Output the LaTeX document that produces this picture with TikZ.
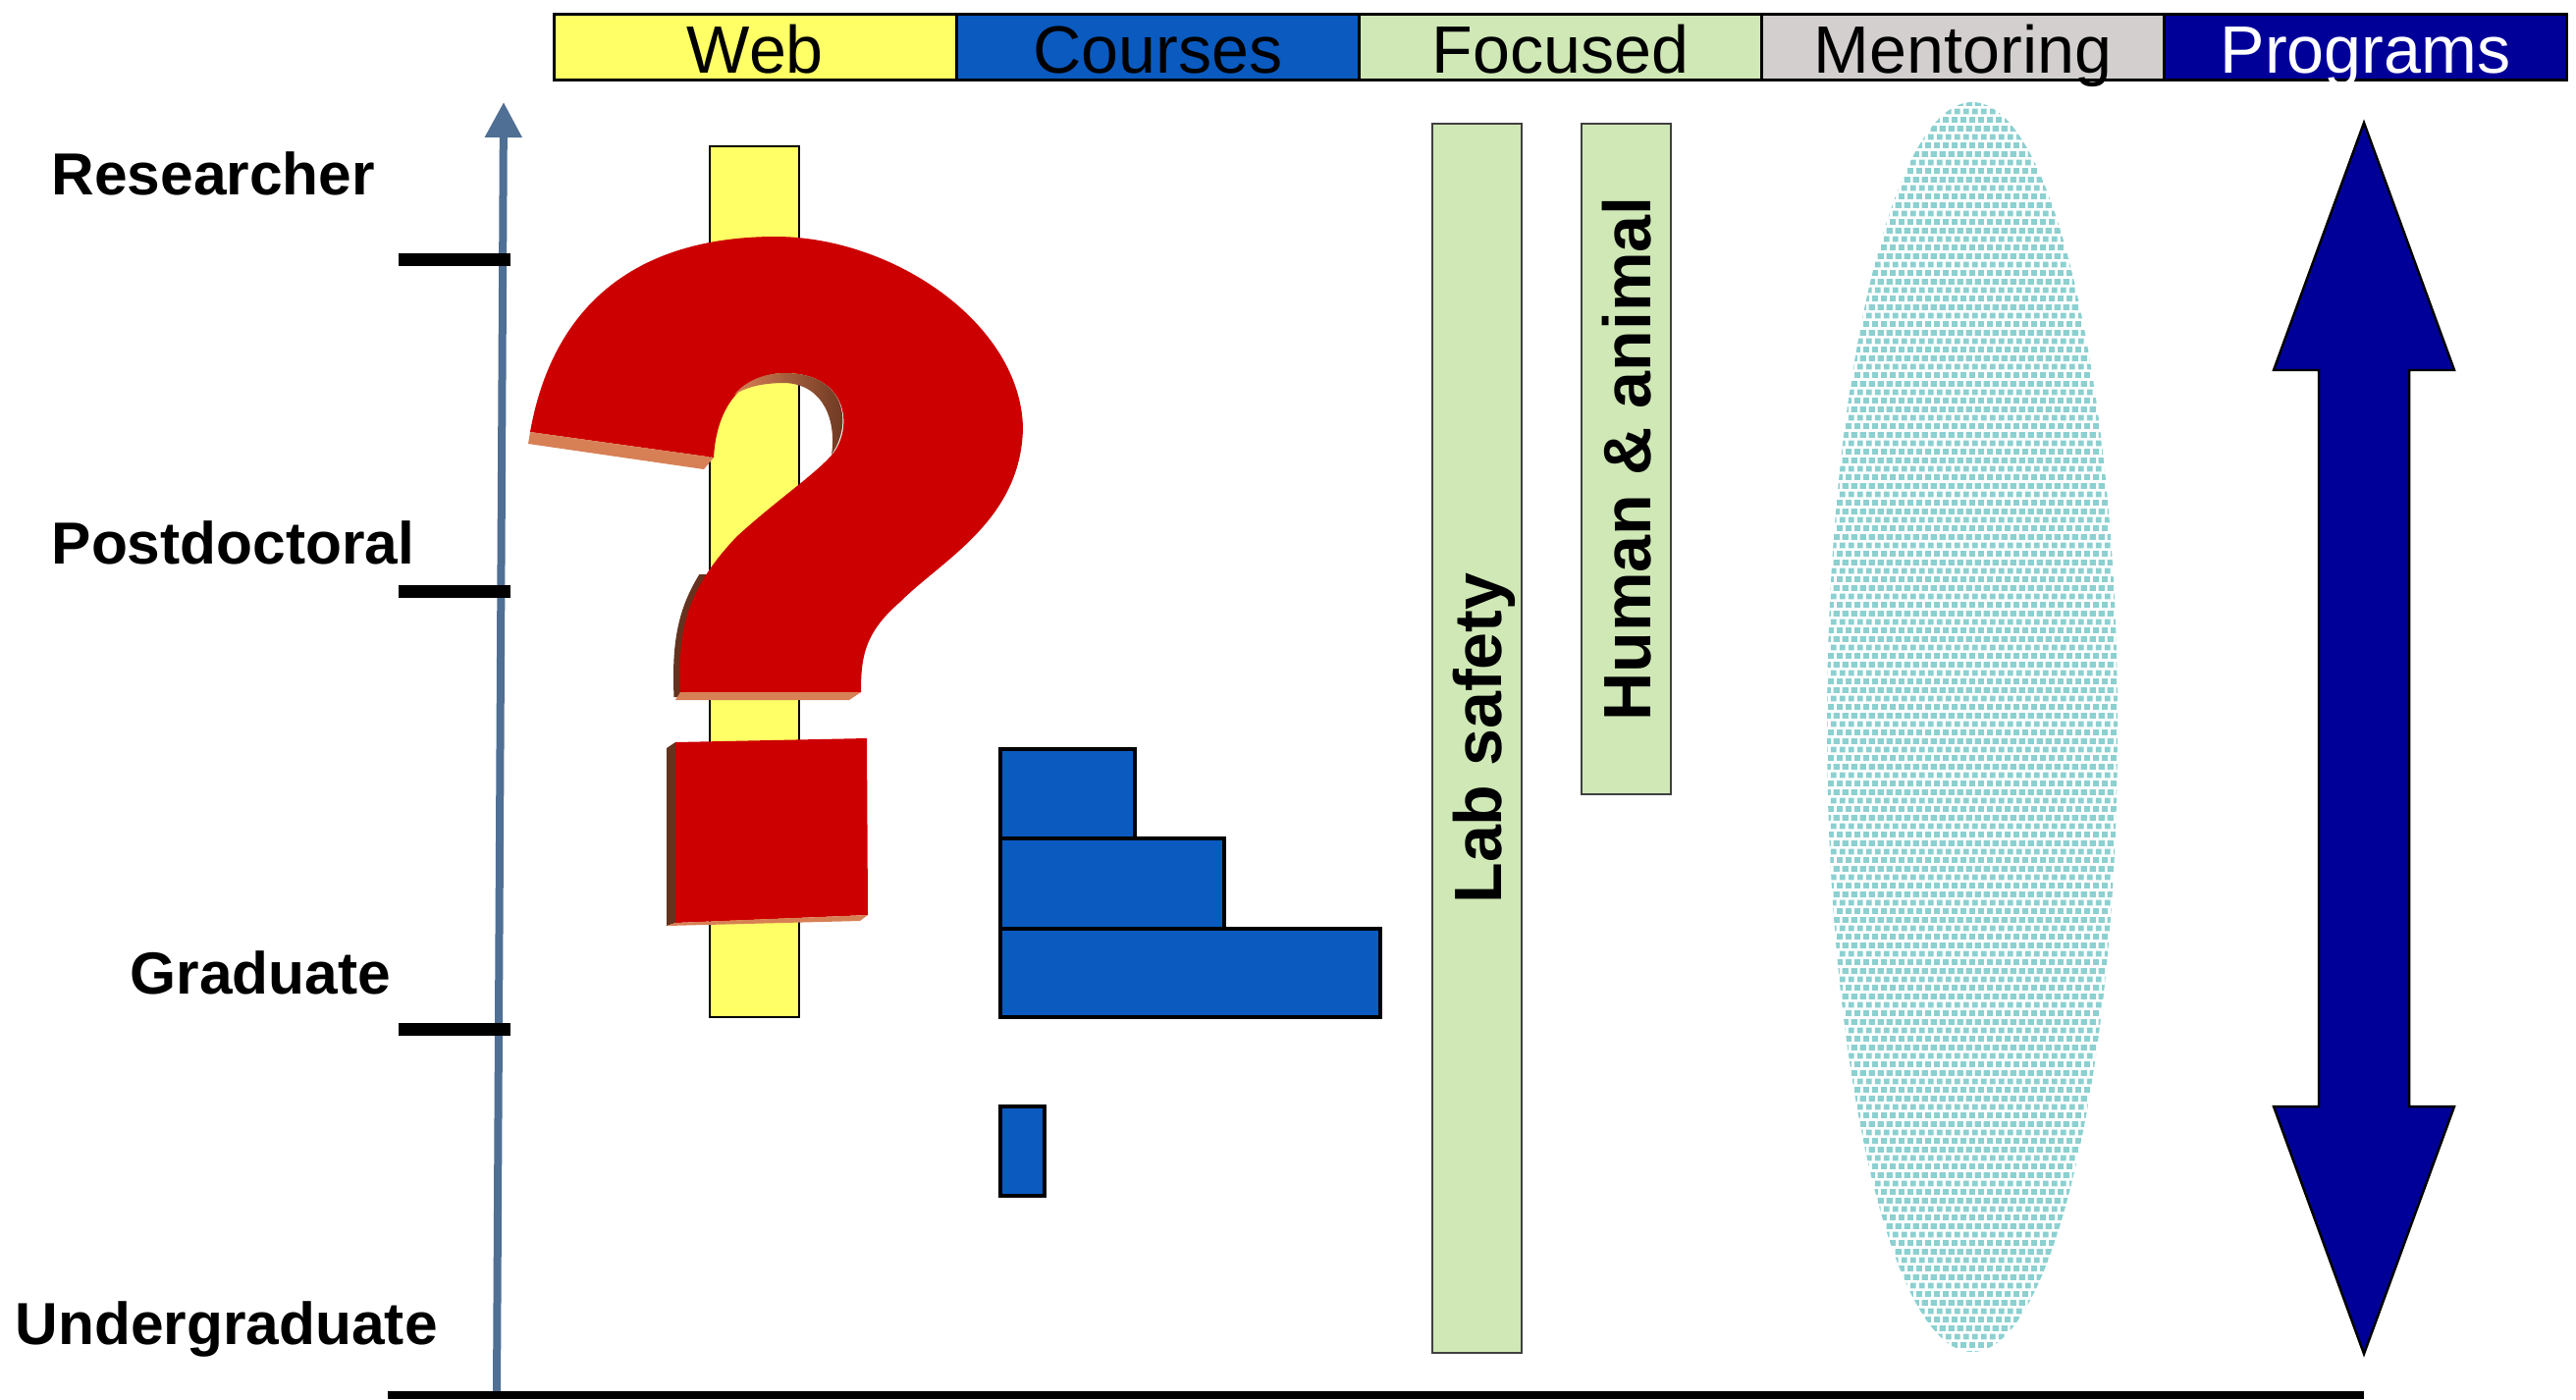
\documentclass[tikz,border=0pt]{standalone}
\usepackage{fontspec}
\setmainfont{Liberation Sans}
\usepackage{xcolor}
\usepackage{tikz}
\usetikzlibrary{arrows.meta, patterns.meta}
\definecolor{WebYellow}{RGB}{255,255,102}
\definecolor{CourseBlue}{RGB}{10,90,192}
\definecolor{FocusGreen}{RGB}{207,232,182}
\definecolor{MentorGrey}{RGB}{211,207,207}
\definecolor{ProgNavy}{RGB}{0,0,153}
\definecolor{AxisBlue}{RGB}{79,111,148}
\definecolor{MentorTeal}{RGB}{140,208,208}
\definecolor{QRed}{RGB}{204,0,0}
\definecolor{QEdge}{RGB}{215,128,85}
\definecolor{QDark}{RGB}{100,50,30}
\tikzdeclarepattern{
    name=mentordots,
    type=uncolored,
    bounding box={(0pt,0pt) and (2.5pt,7.5pt)},
    tile size={(2.5pt,7.5pt)},
    code={
        \fill (0pt,0pt) rectangle (1.7pt,1.7pt);
        \fill (0.83pt,2.5pt) rectangle (2.53pt,4.2pt);
        \fill (1.67pt,5pt) rectangle (3.37pt,6.7pt);
        \fill (-0.83pt,5pt) rectangle (0.87pt,6.7pt);
    }
}
\tikzset{
    headcell/.style={
        draw, line width=0.8pt, minimum width=4.1cm, minimum height=0.67cm,
        inner sep=0pt, text height=0.53cm, text depth=0pt, anchor=north west,
        font=\fontsize{19.4pt}{23pt}\selectfont
    },
    levellabel/.style={
        anchor=base west, inner sep=0pt,
        font=\fontsize{17.2pt}{21pt}\selectfont\bfseries
    },
    tickmark/.style={
        line width=0.13cm, black
    },
    axisline/.style={
        -{Triangle[width=3.6mm, length=3.6mm]}, line width=0.08cm, AxisBlue
    },
    webbar/.style={
        draw=black, line width=0.7pt, fill=WebYellow
    },
    coursebox/.style={
        draw=black, line width=1pt, fill=CourseBlue
    },
    focusbar/.style={
        draw=black!75, line width=0.7pt, fill=FocusGreen, rotate=90,
        inner sep=0pt, minimum height=0.91cm, text height=0.49cm, text depth=0pt,
        font=\fontsize{19.4pt}{23pt}\selectfont\bfseries
    },
    progarrow/.style={
        draw=black, line width=0.7pt, fill=ProgNavy
    },
    qface/.style={fill=QRed},
    qedge/.style={fill=QEdge},
    qshade/.style={fill=QDark}
}
\begin{document}
\begin{tikzpicture}[x=1cm, y=-1cm]
    \useasboundingbox (0,0) rectangle (26.24,14.25);
    \node[headcell, fill=WebYellow] (web) at (5.63,0.13) {Web};
    \node[headcell, fill=CourseBlue] (courses) at (9.73,0.13) {Courses};
    \node[headcell, fill=FocusGreen] (focused) at (13.83,0.13) {Focused};
    \node[headcell, fill=MentorGrey] (mentoring) at (17.93,0.13) {Mentoring};
    \node[headcell, fill=ProgNavy, text=white] (programs) at (22.03,0.13) {Programs};

    \coordinate (axisfoot) at (5.06,14.20);
    \coordinate (axishead) at (5.13,1.04);
    \draw[axisline] (axisfoot) -- (axishead);
    \draw[tickmark] (4.06,2.64) -- (5.20,2.64);
    \draw[tickmark] (4.06,6.02) -- (5.20,6.02);
    \draw[tickmark] (4.06,10.48) -- (5.20,10.48);
    \node[levellabel] (researcher) at (0.52,1.98) {Researcher};
    \node[levellabel] (postdoc) at (0.52,5.74) {Postdoctoral};
    \node[levellabel] (graduate) at (1.32,10.12) {Graduate};
    \node[levellabel] (undergrad) at (0.15,13.69) {Undergraduate};

    \draw[webbar] (7.23,1.49) rectangle (8.14,10.36);

    \begin{scope}
        \clip (6.5,5.85) rectangle (7.3,7.2);
        \draw[QDark, line width=0.07cm] (6.90,7.10) .. controls (6.87,6.40) and (6.97,6.00) .. (7.47,5.47);
    \end{scope}
    \fill[qface] (5.40,4.40) .. controls (5.65,3.00) and (6.60,2.41) .. (7.90,2.41)
        .. controls (9.10,2.41) and (10.40,3.30) .. (10.42,4.36)
        .. controls (10.40,5.30) and (9.60,5.70) .. (9.17,6.13)
        .. controls (8.80,6.45) and (8.77,6.70) .. (8.77,7.05)
        -- (6.93,7.05)
        .. controls (6.90,6.40) and (7.00,6.00) .. (7.50,5.47)
        .. controls (7.90,5.10) and (8.35,4.80) .. (8.50,4.60)
        .. controls (8.70,4.30) and (8.60,3.80) .. (8.00,3.80)
        .. controls (7.60,3.80) and (7.30,4.10) .. (7.27,4.66)
        -- cycle;
    \shade[left color=QEdge, middle color=QEdge, right color=QDark]
        (8.47,4.63) .. controls (8.70,4.30) and (8.60,3.80) .. (8.00,3.80)
        .. controls (7.75,3.80) and (7.58,3.90) .. (7.48,4.02)
        .. controls (7.62,3.93) and (7.80,3.90) .. (8.00,3.90)
        .. controls (8.40,3.92) and (8.52,4.30) .. (8.47,4.63) -- cycle;
    \fill[qedge] (5.40,4.40) -- (7.27,4.66) -- (7.17,4.78) -- (5.38,4.52) -- cycle;
    \fill[qedge] (6.93,7.05) -- (8.77,7.05) -- (8.65,7.13) -- (6.88,7.13) -- cycle;
    \fill[qshade] (6.79,7.62) -- (6.88,7.56) -- (6.88,9.40) -- (6.79,9.43) -- cycle;
    \fill[qface] (6.88,7.56) -- (8.83,7.52) -- (8.84,9.32) -- (6.88,9.40) -- cycle;
    \fill[qedge] (6.79,9.43) -- (6.88,9.40) -- (8.84,9.32) -- (8.76,9.38) -- cycle;

    \draw[coursebox] (10.19,7.63) rectangle (11.56,8.54);
    \draw[coursebox] (10.19,8.54) rectangle (12.47,9.46);
    \draw[coursebox] (10.19,9.46) rectangle (14.06,10.36);
    \draw[coursebox] (10.19,11.27) rectangle (10.64,12.18);

    \node[focusbar, minimum width=12.52cm] (labsafety) at (15.045,7.52) {Lab safety};
    \node[focusbar, minimum width=6.83cm] (humananimal) at (16.565,4.675) {Human \& animal};

    \fill[pattern=mentordots, pattern color=MentorTeal] (20.09,7.405) ellipse [x radius=1.48cm, y radius=6.365cm];

    \draw[progarrow] (24.08,1.25) -- (25.00,3.77) -- (24.54,3.77) -- (24.54,11.27)
        -- (25.00,11.27) -- (24.08,13.79) -- (23.16,11.27) -- (23.62,11.27)
        -- (23.62,3.77) -- (23.16,3.77) -- cycle;

    \coordinate (baseleft) at (3.95,14.21);
    \coordinate (baseright) at (24.08,14.21);
    \draw[line width=0.08cm, black] (baseleft) -- (baseright);
\end{tikzpicture}
\end{document}
